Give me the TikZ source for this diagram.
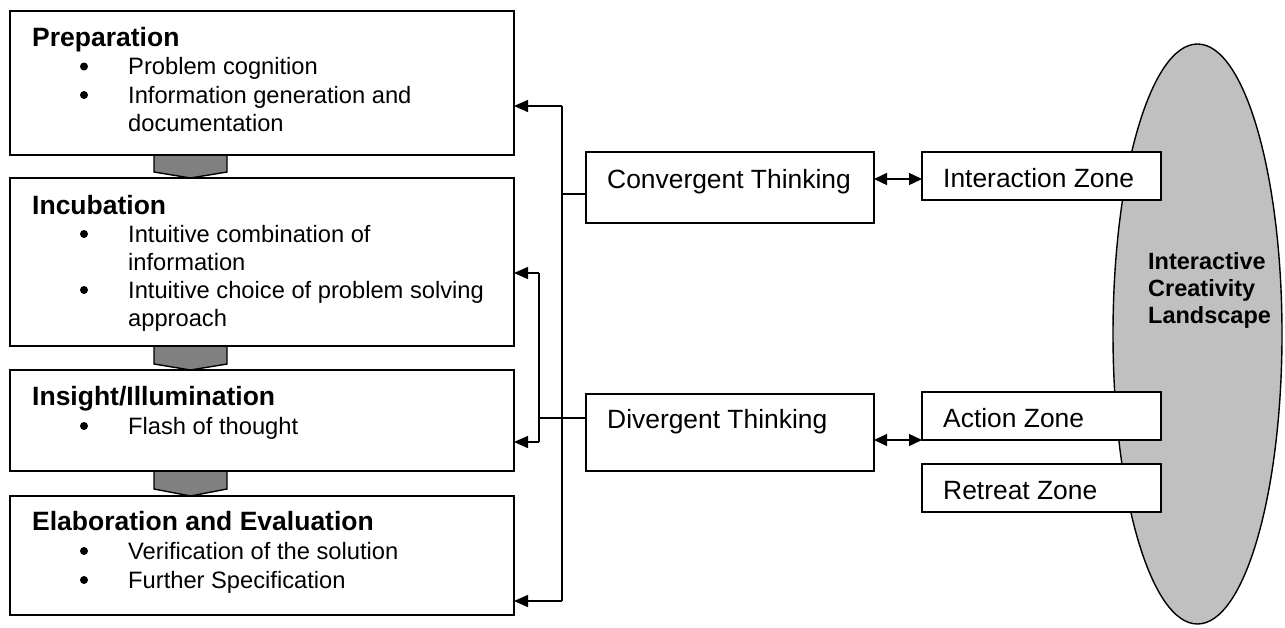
\documentclass[tikz,border=0pt]{standalone}
\usepackage{fontspec}
\setmainfont{Liberation Sans}
\usetikzlibrary{arrows.meta,shapes.geometric,calc}
\definecolor{silverg}{HTML}{C0C0C0}
\definecolor{chevg}{HTML}{808080}
\begin{document}
\begin{tikzpicture}[x=1pt,y=-1pt,
  box/.style={draw,line width=1.6pt,fill=white,inner sep=0pt,outer sep=0pt,anchor=north west},
  ttl/.style={font=\fontsize{26.5}{30}\selectfont\bfseries,anchor=base west,inner sep=0pt},
  itm/.style={font=\fontsize{23.7}{28}\selectfont,anchor=base west,inner sep=0pt},
  rtx/.style={font=\fontsize{26.4}{30}\selectfont,anchor=base west,inner sep=0pt},
  etx/.style={font=\fontsize{23.5}{27}\selectfont\bfseries,anchor=base west,inner sep=0pt},
  bul/.style={circle,fill,inner sep=0pt,minimum size=8pt},
  conn/.style={line width=1.4pt},
  arr/.style={conn,-{Triangle[length=14pt,width=12pt]}},
  darr/.style={conn,{Triangle[length=13pt,width=12pt]}-{Triangle[length=13pt,width=12pt]}},
  chev/.style={fill=chevg,draw,line width=1.4pt,line join=miter}]

\useasboundingbox (0,0) rectangle (1285,627);

% landscape ellipse
\node[ellipse,draw,line width=1.4pt,fill=silverg,minimum width=169pt,minimum height=580pt,inner sep=0pt] (icl) at (1197.5,334) {};
\node[etx] (icl1) at (1148,269) {Interactive};
\node[etx] (icl2) at (1148,296) {Creativity};
\node[etx] (icl3) at (1148,323) {Landscape};

% chevrons between phases
\draw[chev] (154,155) -- (154,172) -- (190.5,178) -- (227,172) -- (227,155) -- cycle;
\draw[chev] (154,346) -- (154,364) -- (190.5,370) -- (227,364) -- (227,346) -- cycle;
\draw[chev] (154,471) -- (154,489) -- (190.5,496) -- (227,489) -- (227,471) -- cycle;

% phase boxes
\node[box,minimum width=504pt,minimum height=144pt] (prep) at (10,11) {};
\node[box,minimum width=504pt,minimum height=168pt] (incu) at (10,178) {};
\node[box,minimum width=504pt,minimum height=101pt] (ins) at (10,370) {};
\node[box,minimum width=504pt,minimum height=119pt] (elab) at (10,496) {};

% Preparation
\node[ttl] (prepT) at (32,46) {Preparation};
\node[bul] (pb1) at (84,66.5) {};
\node[itm] (pi1) at (128,74.5) {Problem cognition};
\node[bul] (pb2) at (84,95) {};
\node[itm] (pi2) at (128,103) {Information generation and};
\node[itm] (pi3) at (128,131.5) {documentation};

% Incubation
\node[ttl] (incT) at (32,214) {Incubation};
\node[bul] (ib1) at (84,234) {};
\node[itm] (ii1) at (128,242) {Intuitive combination of};
\node[itm] (ii2) at (128,270) {information};
\node[bul] (ib2) at (84,290) {};
\node[itm] (ii3) at (128,298) {Intuitive choice of problem solving};
\node[itm] (ii4) at (128,326) {approach};

% Insight
\node[ttl] (insT) at (32,405) {Insight/Illumination};
\node[bul] (sb1) at (84,426) {};
\node[itm] (si1) at (128,434) {Flash of thought};

% Elaboration
\node[ttl] (elT) at (32,530) {Elaboration and Evaluation};
\node[bul] (eb1) at (84,551) {};
\node[itm] (ei1) at (128,559) {Verification of the solution};
\node[bul] (eb2) at (84,580) {};
\node[itm] (ei2) at (128,588) {Further Specification};

% thinking boxes
\node[box,minimum width=288pt,minimum height=71pt] (conv) at (586,152) {};
\node[rtx] (convT) at (607,188) {Convergent Thinking};
\node[box,minimum width=288pt,minimum height=77pt] (div) at (586,394) {};
\node[rtx] (divT) at (607,428) {Divergent Thinking};

% zone boxes
\node[box,minimum width=239pt,minimum height=48pt] (inter) at (922,152) {};
\node[rtx] (interT) at (943,187) {Interaction Zone};
\node[box,minimum width=239pt,minimum height=48pt] (act) at (922,392) {};
\node[rtx] (actT) at (943,427) {Action Zone};
\node[box,minimum width=239pt,minimum height=48pt] (ret) at (922,464) {};
\node[rtx] (retT) at (943,499) {Retreat Zone};

% convergent bus
\coordinate (cbus) at (562,194);
\coordinate (ctop) at (562,106);
\coordinate (cbot) at (562,601);
\draw[conn] ([yshift=-6.5pt]conv.west) -- (cbus);
\draw[conn] (ctop) -- (cbot);
\draw[arr] (ctop) -- (ctop -| prep.east);
\draw[arr] (cbot) -- (cbot -| elab.east);

% divergent bus
\coordinate (dbus) at (539,418);
\coordinate (dtop) at (539,273);
\coordinate (dbot) at (539,442);
\draw[conn] ([yshift=14.5pt]div.west) -- (dbus);
\draw[conn] (dtop) -- (dbot);
\draw[arr] (dtop) -- (dtop -| incu.east);
\draw[arr] (dbot) -- (dbot -| ins.east);

% thinking to zones
\draw[darr] ([yshift=8.5pt]conv.east) -- ([yshift=8.5pt]conv.east -| inter.west);
\draw[darr] ([yshift=-7.5pt]div.east) -- ([yshift=-7.5pt]div.east -| act.west);
\end{tikzpicture}
\end{document}
